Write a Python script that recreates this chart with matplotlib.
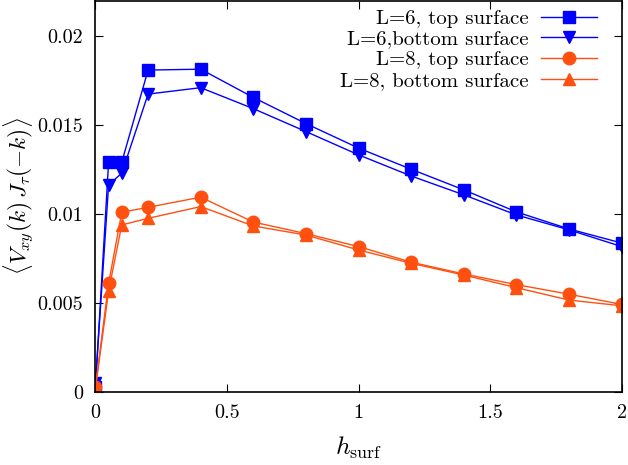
import numpy as np
import matplotlib
matplotlib.use("Agg")
import matplotlib.pyplot as plt

# surface field values
h_surf = [0.0, 0.05, 0.1, 0.2, 0.4, 0.6, 0.8, 1.0, 1.2, 1.4, 1.6, 1.8, 2.0]

# correlator <V_xy(k) J_tau(-k)> for each system size / surface
L6_top = [0.0003, 0.01293, 0.01293, 0.01811, 0.01816, 0.01657, 0.01510,
          0.01372, 0.01253, 0.01137, 0.01013, 0.00917, 0.00838]
L6_bottom = [0.0005, 0.01165, 0.01231, 0.01676, 0.01712, 0.01594, 0.01465,
             0.01334, 0.01215, 0.01109, 0.00996, 0.00912, 0.00818]
L8_top = [0.0003, 0.00611, 0.01011, 0.01039, 0.01096, 0.00956, 0.00891,
          0.00818, 0.00730, 0.00664, 0.00604, 0.00550, 0.00493]
L8_bottom = [0.0002, 0.00570, 0.00940, 0.00977, 0.01043, 0.00934, 0.00883,
             0.00799, 0.00724, 0.00658, 0.00587, 0.00517, 0.00485]

labels = ["L=6, top surface", "L=6,bottom surface",
          "L=8, top surface", "L=8, bottom surface"]

plt.rcParams['font.family'] = 'cmr10'
plt.rcParams['mathtext.fontset'] = 'cm'
plt.rcParams['axes.formatter.use_mathtext'] = True
plt.rcParams['font.size'] = 15

blue = '#0000ff'
orange = '#ff5010'

fig = plt.figure(figsize=(6.28, 4.65), dpi=100)
ax = fig.add_axes([0.152, 0.157, 0.838, 0.841])

ax.plot(h_surf, L6_top, color=blue, lw=1, marker='s', ms=9, label=labels[0])
ax.plot(h_surf, L6_bottom, color=blue, lw=1, marker='v', ms=8, label=labels[1])
ax.plot(h_surf, L8_top, color=orange, lw=1, marker='o', ms=9, label=labels[2])
ax.plot(h_surf, L8_bottom, color=orange, lw=1, marker='^', ms=8, label=labels[3])

ax.set_xlim(0, 2)
ax.set_ylim(0, 0.022)
ax.set_xticks([0, 0.5, 1, 1.5, 2])
ax.set_xticklabels(['0', '0.5', '1', '1.5', '2'])
ax.set_yticks([0, 0.005, 0.01, 0.015, 0.02])
ax.set_yticklabels(['0', '0.005', '0.01', '0.015', '0.02'])
ax.tick_params(direction='in', top=True, right=True, length=6, width=0.8,
               labelsize=14.5)
ax.tick_params(axis='y', pad=9)
ax.tick_params(axis='x', pad=9)
for sp in ax.spines.values():
    sp.set_linewidth(1.2)

ax.set_xlabel(r'$h_{\rm surf}$', fontsize=18.5, labelpad=9)
ax.set_ylabel(r'$\langle V_{xy}(k)\,J_\tau(-k)\rangle$', fontsize=16.8, labelpad=1)

ax.legend(loc='upper right', bbox_to_anchor=(0.968, 1.0), frameon=False,
          markerfirst=False, handlelength=2.65, labelspacing=0.1,
          borderaxespad=0, handletextpad=0.6, fontsize=15)

fig.savefig('out.png', dpi=100)
